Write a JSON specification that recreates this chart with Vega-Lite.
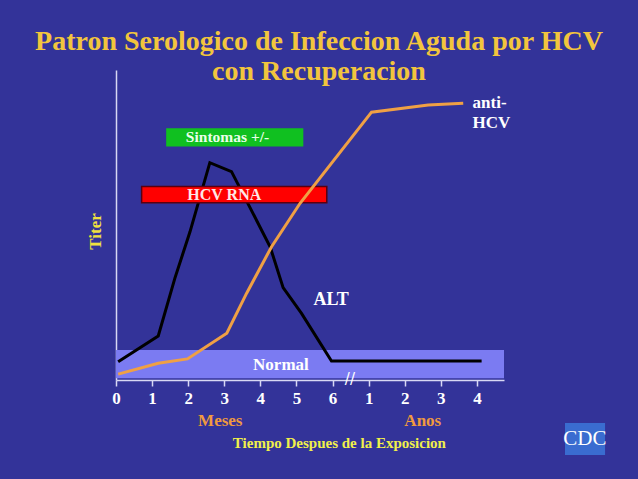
{
  "$schema": "https://vega.github.io/schema/vega-lite/v6.json",
  "width": 388,
  "height": 310,
  "autosize": {"type": "none"},
  "padding": {"left": 116, "top": 70, "right": 134, "bottom": 99},
  "background": "#333399",
  "config": {"view": {"stroke": null}, "font": "Liberation Serif"},
  "title": {
    "text": ["Patron Serologico de Infeccion Aguda por HCV", "con Recuperacion"],
    "font": "Liberation Serif",
    "fontSize": 28,
    "fontWeight": "bold",
    "color": "#f2c53d",
    "anchor": "middle",
    "dx": 9,
    "offset": -16,
    "lineHeight": 30
  },
  "datasets": {
    "lines": [
      {"series": "ALT", "x": 0.06, "y": 5.9},
      {"series": "ALT", "x": 1.17, "y": 14.2},
      {"series": "ALT", "x": 1.63, "y": 32.8},
      {"series": "ALT", "x": 2.05, "y": 47.8},
      {"series": "ALT", "x": 2.6, "y": 70.1},
      {"series": "ALT", "x": 3.2, "y": 67.2},
      {"series": "ALT", "x": 4.27, "y": 43},
      {"series": "ALT", "x": 4.63, "y": 29.8},
      {"series": "ALT", "x": 5.14, "y": 21.5},
      {"series": "ALT", "x": 5.97, "y": 6.1},
      {"series": "ALT", "x": 10.13, "y": 6.1},
      {"series": "anti-HCV", "x": 0.06, "y": 1.9},
      {"series": "anti-HCV", "x": 1.17, "y": 5.4},
      {"series": "anti-HCV", "x": 1.98, "y": 6.8},
      {"series": "anti-HCV", "x": 3.07, "y": 15.1},
      {"series": "anti-HCV", "x": 3.62, "y": 28},
      {"series": "anti-HCV", "x": 4.31, "y": 43},
      {"series": "anti-HCV", "x": 5.1, "y": 57},
      {"series": "anti-HCV", "x": 7.08, "y": 86.4},
      {"series": "anti-HCV", "x": 8.65, "y": 88.7},
      {"series": "anti-HCV", "x": 9.62, "y": 89.3}
    ]
  },
  "encoding": {
    "x": {
      "field": "x",
      "type": "quantitative",
      "scale": {"domain": [0, 10.75], "nice": false, "zero": false},
      "axis": {
        "title": null,
        "values": [0, 1, 2, 3, 4, 5, 6, 7, 8, 9, 10],
        "labelExpr": "datum.value > 6 ? datum.value - 6 : datum.value",
        "labelFont": "Liberation Serif",
        "labelFontSize": 17,
        "labelFontWeight": "bold",
        "labelColor": "#ffffff",
        "labelPadding": 4,
        "labelFlush": false,
        "tickColor": "#d8d8f4",
        "tickSize": 6,
        "tickWidth": 1.5,
        "domainColor": "#d8d8f4",
        "domainWidth": 1.5,
        "grid": false
      }
    },
    "y": {
      "field": "y",
      "type": "quantitative",
      "scale": {"domain": [0, 100], "nice": false, "zero": false},
      "axis": {
        "title": "Titer",
        "titleFont": "Liberation Serif",
        "titleFontSize": 17,
        "titleFontWeight": "bold",
        "titleColor": "#f0e040",
        "titlePadding": 12,
        "titleY": 161,
        "labels": false,
        "ticks": false,
        "grid": false,
        "domainColor": "#d8d8f4",
        "domainWidth": 1.5
      }
    }
  },
  "layer": [
    {
      "data": {"values": [{"label": "Normal", "x": 0, "x2": 10.75, "y": 0.6, "y2": 9.7}]},
      "mark": {"type": "rect", "color": "#7b7bf2"},
      "encoding": {"x2": {"field": "x2"}, "y2": {"field": "y2"}}
    },
    {
      "data": {"values": [{"label": "Normal", "x": 4.57, "y": 4.8}]},
      "mark": {"type": "text", "font": "Liberation Serif", "fontSize": 17, "fontWeight": "bold", "color": "#ffffff", "align": "center", "baseline": "middle"},
      "encoding": {"text": {"field": "label"}}
    },
    {
      "data": {"name": "lines"},
      "transform": [{"filter": "datum.series === 'ALT'"}],
      "mark": {"type": "line", "color": "#000000", "strokeWidth": 3, "strokeJoin": "miter"},
      "encoding": {}
    },
    {
      "data": {"values": [{"label": "Sintomas +/-", "x": 1.39, "x2": 5.19, "y": 75.3, "y2": 81.2}]},
      "mark": {"type": "rect", "color": "#10c020"},
      "encoding": {"x2": {"field": "x2"}, "y2": {"field": "y2"}}
    },
    {
      "data": {"values": [{"label": "HCV RNA", "x": 0.71, "x2": 5.84, "y": 57.2, "y2": 62.4}]},
      "mark": {"type": "rect", "color": "#ff0000", "stroke": "#5a0010", "strokeWidth": 1.5},
      "encoding": {"x2": {"field": "x2"}, "y2": {"field": "y2"}}
    },
    {
      "data": {"values": [{"label": "Sintomas +/-", "x": 3.09, "y": 78.3}]},
      "mark": {"type": "text", "font": "Liberation Serif", "fontSize": 15.5, "fontWeight": "bold", "color": "#eaffea", "align": "center", "baseline": "middle"},
      "encoding": {"text": {"field": "label"}}
    },
    {
      "data": {"values": [{"label": "HCV RNA", "x": 3.0, "y": 59.6}]},
      "mark": {"type": "text", "font": "Liberation Serif", "fontSize": 16, "fontWeight": "bold", "color": "#ffe6e6", "align": "center", "baseline": "middle"},
      "encoding": {"text": {"field": "label"}}
    },
    {
      "data": {"name": "lines"},
      "transform": [{"filter": "datum.series === 'anti-HCV'"}],
      "mark": {"type": "line", "color": "#f0a044", "strokeWidth": 3, "strokeJoin": "miter"},
      "encoding": {}
    },
    {
      "data": {"values": [{"label": "ALT", "x": 5.47, "y": 25.8}]},
      "mark": {"type": "text", "font": "Liberation Serif", "fontSize": 18, "fontWeight": "bold", "color": "#ffffff", "align": "left", "baseline": "middle"},
      "encoding": {"text": {"field": "label"}}
    },
    {
      "data": {"values": [
        {"label": "anti-", "x": 9.88, "y": 89.2},
        {"label": "HCV", "x": 9.88, "y": 83.0}
      ]},
      "mark": {"type": "text", "font": "Liberation Serif", "fontSize": 17, "fontWeight": "bold", "color": "#ffffff", "align": "left", "baseline": "middle"},
      "encoding": {"text": {"field": "label"}}
    },
    {
      "data": {"values": [{"label": "//", "x": 6.48, "y": 0.4}]},
      "mark": {"type": "text", "font": "DejaVu Sans", "fontSize": 15, "color": "#ffffff", "align": "center", "baseline": "middle", "clip": false},
      "encoding": {"text": {"field": "label"}}
    },
    {
      "data": {"values": [
        {"label": "Meses", "x": 2.89, "y": -13.2},
        {"label": "Anos", "x": 8.5, "y": -13.2}
      ]},
      "mark": {"type": "text", "font": "Liberation Serif", "fontSize": 17, "fontWeight": "bold", "color": "#f09a3e", "align": "center", "baseline": "middle", "clip": false},
      "encoding": {"text": {"field": "label"}}
    },
    {
      "data": {"values": [{"label": "Tiempo Despues de la Exposicion", "x": 6.19, "y": -20.3}]},
      "mark": {"type": "text", "font": "Liberation Serif", "fontSize": 15, "fontWeight": "bold", "color": "#f0f04a", "align": "center", "baseline": "middle", "clip": false},
      "encoding": {"text": {"field": "label"}}
    },
    {
      "data": {"values": [{"label": "CDC", "x": 12.44, "x2": 13.55, "y": -13.9, "y2": -24.2}]},
      "mark": {"type": "rect", "color": "#3a6cd0", "clip": false},
      "encoding": {"x2": {"field": "x2"}, "y2": {"field": "y2"}}
    },
    {
      "data": {"values": [{"label": "CDC", "x": 12.99, "y": -19.0}]},
      "mark": {"type": "text", "font": "Liberation Sans Narrow", "fontSize": 21, "color": "#ffffff", "align": "center", "baseline": "middle", "clip": false},
      "encoding": {"text": {"field": "label"}}
    }
  ]
}
